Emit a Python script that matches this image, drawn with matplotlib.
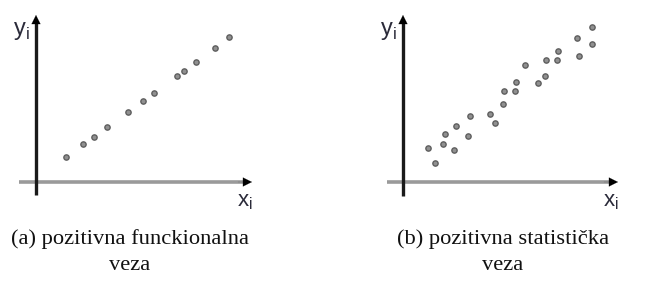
import matplotlib
matplotlib.use("Agg")
import matplotlib.pyplot as plt

plt.rcParams['mathtext.fontset'] = 'custom'
plt.rcParams['mathtext.rm'] = 'Liberation Sans'

# Panel (a): positive functional relationship
xa = [1.5, 2.35, 2.9, 3.55, 4.6, 5.35, 5.9, 7.05, 7.4, 8.0, 8.95, 9.65]
ya = [1.25, 1.9, 2.25, 2.75, 3.5, 4.05, 4.45, 5.3, 5.55, 6.0, 6.7, 7.25]

# Panel (b): positive statistical relationship
xb = [1.25, 1.6, 2.1, 2.0, 2.65, 2.55, 3.35, 3.25, 4.35, 4.6, 5.0, 5.05,
      5.6, 5.65, 6.1, 6.75, 7.1, 7.15, 7.7, 7.75, 8.7, 8.8, 9.45, 9.45]
yb = [1.7, 0.95, 2.4, 1.9, 2.8, 1.6, 3.3, 2.3, 3.4, 2.95, 3.9, 4.55,
      4.55, 5.0, 5.85, 4.95, 5.3, 6.1, 6.1, 6.55, 7.2, 6.3, 7.75, 6.9]

captions = ["(a) pozitivna funckionalna\nveza", "(b) pozitivna statistička\nveza"]

W, H = 649, 282
fig = plt.figure(figsize=(W / 100, H / 100), dpi=100)
fig.patch.set_facecolor('white')

scale = 20.0  # pixels per data unit
panels = [
    dict(x0=0, x1=324.5, ox=36, oy=182, xs=xa, ys=ya, cap=captions[0], capx=130,
         ybot=195, ytop=15, xl=19, xr=252),
    dict(x0=324.5, x1=649, ox=403, oy=182, xs=xb, ys=yb, cap=captions[1], capx=503,
         ybot=196, ytop=15, xl=387, xr=618),
]

for p in panels:
    ax = fig.add_axes([p['x0'] / W, 0, (p['x1'] - p['x0']) / W, 1])
    ax.set_axis_off()
    ax.set_xlim((p['x0'] - p['ox']) / scale, (p['x1'] - p['ox']) / scale)
    ax.set_ylim((p['oy'] - H) / scale, p['oy'] / scale)

    # y axis
    yb0 = (p['oy'] - p['ybot']) / scale
    yt = (p['oy'] - p['ytop']) / scale
    ax.plot([0, 0], [yb0, yt - 0.4], color='#1a1a1a', lw=2.4, solid_capstyle='butt', zorder=2)
    ax.annotate('', xy=(0, yt), xytext=(0, yt - 0.7),
                arrowprops=dict(arrowstyle='-|>', color='black', lw=0.1,
                                mutation_scale=16, shrinkA=0, shrinkB=0), zorder=3)
    # x axis
    xl = (p['xl'] - p['ox']) / scale
    xr = (p['xr'] - p['ox']) / scale
    ax.plot([xl, xr - 0.4], [0, 0], color='#9a9a9a', lw=2.6, solid_capstyle='butt', zorder=1)
    ax.annotate('', xy=(xr, 0), xytext=(xr - 0.7, 0),
                arrowprops=dict(arrowstyle='-|>', color='black', lw=0.1,
                                mutation_scale=16, shrinkA=0, shrinkB=0), zorder=3)

    # points
    ax.plot(p['xs'], p['ys'], linestyle='none', marker='o', markersize=3.8,
            markerfacecolor='#909090', markeredgecolor='#5e5e5e', markeredgewidth=1.0, zorder=4)

    # axis labels
    ax.text(-0.3, yt - 0.75, r'$\mathrm{y}_\mathrm{i}$', fontsize=17, color='#2b2b3a',
            ha='right', va='center')
    ax.text(xr - 0.35, -1.0, r'$\mathrm{x}_\mathrm{i}$', fontsize=16, color='#2b2b3a',
            ha='center', va='center')

    # caption
    ax.text((p['capx'] - p['ox']) / scale, (p['oy'] - 252) / scale, p['cap'],
            family='Liberation Serif', fontsize=16.2, color='#111111',
            ha='center', va='center', linespacing=1.45, multialignment='center')

fig.savefig('out.png', dpi=100, facecolor='white')
